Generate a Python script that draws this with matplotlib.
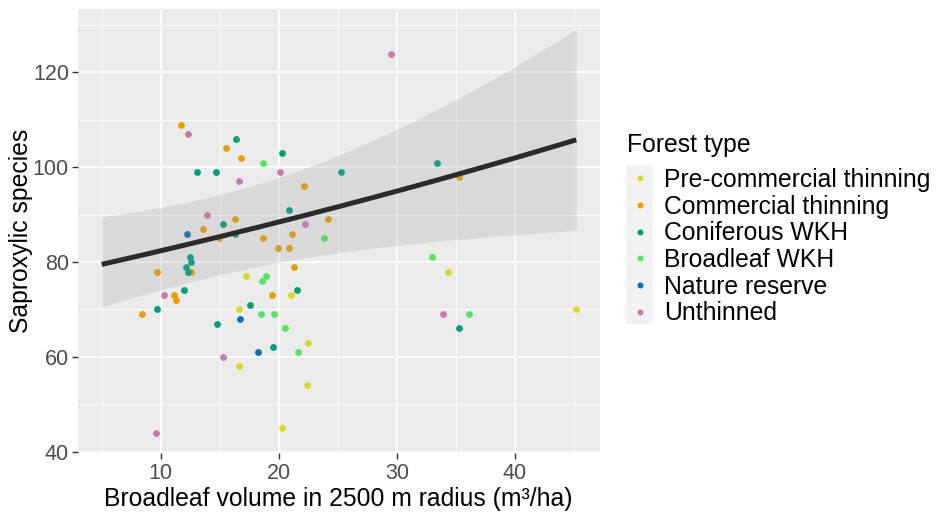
import numpy as np
import matplotlib.pyplot as plt
from matplotlib.lines import Line2D
from matplotlib.patches import Rectangle

plt.rcParams['font.family'] = ['Liberation Sans', 'DejaVu Sans']

# forest types and their colours
groups = ['Pre-commercial thinning', 'Commercial thinning', 'Coniferous WKH',
          'Broadleaf WKH', 'Nature reserve', 'Unthinned']
colors = ['#D2DB2D', '#E69F00', '#009E73', '#53E65E', '#0072B2', '#CC79A7']

# broadleaf volume (x) and saproxylic species (y)
precomm_x = [17.2, 21.0, 16.6, 22.5, 16.6, 22.4, 20.3, 34.3, 45.2]
precomm_y = [77, 73, 70, 63, 58, 54, 45, 78, 70]
comm_x = [11.7, 13.6, 15.5, 16.8, 22.1, 16.3, 24.2, 14.9, 18.7, 21.1,
          19.9, 20.9, 21.3, 19.4, 12.6, 9.7, 11.1, 11.3, 8.4, 35.3]
comm_y = [109, 87, 104, 102, 96, 89, 89, 85, 85, 86,
          83, 83, 79, 73, 78, 78, 73, 72, 69, 98]
conif_x = [13.1, 14.7, 16.4, 20.3, 20.9, 15.3, 16.3, 12.5, 12.6, 12.1,
           12.3, 12.0, 9.7, 14.8, 21.5, 17.6, 19.5, 25.3, 33.4, 35.3]
conif_y = [99, 99, 106, 103, 91, 88, 86, 81, 80, 79,
           78, 74, 70, 67, 74, 71, 62, 99, 101, 66]
broad_x = [18.7, 23.8, 18.9, 18.6, 18.5, 19.6, 20.5, 21.6, 33.0, 36.1]
broad_y = [101, 85, 77, 76, 69, 69, 66, 61, 81, 69]
reserve_x = [12.2, 16.7, 18.2]
reserve_y = [86, 68, 61]
unthin_x = [12.3, 13.9, 20.1, 16.6, 22.2, 10.3, 15.3, 9.6, 29.5, 33.9]
unthin_y = [107, 90, 99, 97, 88, 73, 60, 44, 124, 69]

xs = [precomm_x, comm_x, conif_x, broad_x, reserve_x, unthin_x]
ys = [precomm_y, comm_y, conif_y, broad_y, reserve_y, unthin_y]

# fitted log-link line: ends of the line and the log-scale CI half width
fit_x = [5.0, 45.2]
fit_y = [79.5, 105.8]
ci_min, ci_curv, ci_center = 0.0986, 3.57e-5, 16.2

W, H = 939, 514
fig = plt.figure(figsize=(W/100, H/100), dpi=100)
ax = fig.add_axes([78/W, 1-453/H, (600-78)/W, (453-9)/H])
ax.set_facecolor('#EBEBEB')
for s in ax.spines.values():
    s.set_visible(False)

for gx, gy, c in zip(xs, ys, colors):
    ax.scatter(gx, gy, s=24, color=c, linewidths=0, zorder=3)

b = (np.log(fit_y[1]) - np.log(fit_y[0])) / (fit_x[1] - fit_x[0])
xx = np.linspace(fit_x[0], fit_x[1], 200)
eta = np.log(fit_y[0]) + b*(xx - fit_x[0])
half = np.sqrt(ci_min**2 + ci_curv*(xx - ci_center)**2)
ax.fill_between(xx, np.exp(eta - half), np.exp(eta + half), color='#999999',
                alpha=0.22, linewidth=0, zorder=4)
ax.plot(xx, np.exp(eta), color='#2B2B2B', lw=3.6, zorder=5,
        solid_capstyle='butt')

ax.set_xlim(2.99, 47.21)
ax.set_ylim(39.7, 133.4)
ax.set_xticks([10, 20, 30, 40])
ax.set_xticks([5, 15, 25, 35, 45], minor=True)
ax.set_yticks([40, 60, 80, 100, 120])
ax.set_yticks([50, 70, 90, 110, 130], minor=True)
ax.grid(which='major', color='white', lw=1.2)
ax.grid(which='minor', color='white', lw=0.6)
ax.set_axisbelow(True)
ax.tick_params(which='major', length=4, width=1, color='#333333',
               labelcolor='#4D4D4D', labelsize=15.5, pad=2.5)
ax.tick_params(axis='x', which='major', pad=3.5)
ax.tick_params(which='minor', length=0)

ax.set_ylabel('Saproxylic species', fontsize=17.8, labelpad=0)


def fy(py):
    return 1 - py/H


fig.text(338/W, fy(506), 'Broadleaf volume in 2500 m radius (m\u00b3/ha)',
         fontsize=17.8, ha='center', va='baseline')

# legend, placed by hand in pixel positions
fig.add_artist(Rectangle((626/W, fy(324)), 27/W, 159/H,
                         transform=fig.transFigure, facecolor='#F2F2F2',
                         edgecolor='none', zorder=0))
fig.text(627/W, fy(151.5), 'Forest type', fontsize=17.8, va='baseline',
         ha='left')
row_y = [178.3, 205.0, 231.7, 258.4, 285.1, 311.8]
for name, c, py in zip(groups, colors, row_y):
    fig.add_artist(Line2D([639.5/W], [fy(py)], marker='o', ls='none',
                          color=c, markersize=4.3, markeredgewidth=0,
                          transform=fig.transFigure))
    fig.text(664/W, fy(py + 8.5), name, fontsize=17.8, va='baseline',
             ha='left')

fig.savefig('out.png', dpi=100)
